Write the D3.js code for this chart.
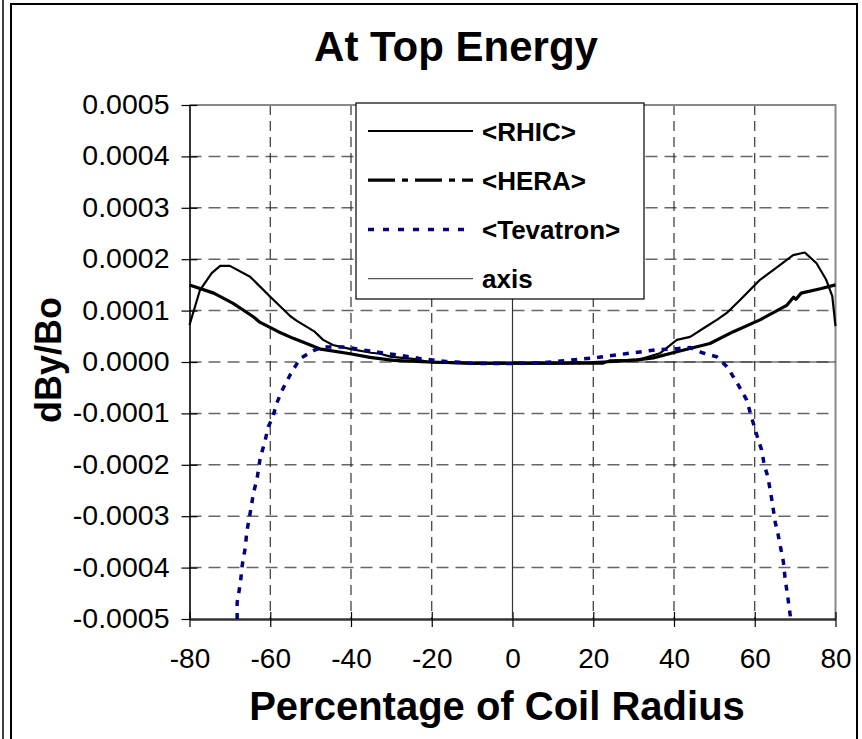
<!DOCTYPE html>
<html><head><meta charset="utf-8">
<script src="https://cdn.jsdelivr.net/npm/d3@7"></script>
<style>body{margin:0;background:#fff}svg{display:block}text{font-family:"Liberation Sans",Arial,sans-serif;fill:#000}</style>
</head><body><svg id="c" width="862" height="739"></svg>
<script>
// ---- data ----
const chartTitle = "At Top Energy";
const xTitle = "Percentage of Coil Radius";
const yTitle = "dBy/Bo";
const xTicks = [-80,-60,-40,-20,0,20,40,60,80];
const xTickLabels = ["-80","-60","-40","-20","0","20","40","60","80"];
const yTicks = [0.0005,0.0004,0.0003,0.0002,0.0001,0,-0.0001,-0.0002,-0.0003,-0.0004,-0.0005];
const yTickLabels = ["0.0005","0.0004","0.0003","0.0002","0.0001","0.0000","-0.0001","-0.0002","-0.0003","-0.0004","-0.0005"];
const seriesNames = ["<RHIC>","<HERA>","<Tevatron>","axis"];

const rhicX = [-80,-77.4,-74.5,-72.4,-70,-65,-60,-55,-53.4,-49,-46.9,-44.5,-40,-35,-32.8,-30,-24.6,-20,-10,0,10,20,22.5,24,31,36.5,40.7,44,48,50.6,53,56.3,61.3,66.3,69.5,72.4,75.3,77.7,79.2,80];
const rhicY = [0.000072,0.000140,0.000173,0.000187,0.000187,0.000166,0.000127,0.000089,0.000080,0.000059,0.000043,0.000033,0.000025,0.000018,0.000016,0.000010,0.000006,-0.000001,-0.000003,-0.000003,-0.000003,-0.000003,-0.000003,0.000003,0.000004,0.000017,0.000043,0.000049,0.000069,0.000082,0.000095,0.000120,0.000160,0.000189,0.000208,0.000213,0.000192,0.000160,0.000128,0.000070];

const heraX = [-80,-74,-69.2,-64.2,-62.5,-58,-54.3,-51,-47.5,-40.2,-35.3,-29.5,-21,-10,0,10,20,25,30.8,34.9,40.7,48.9,54.7,61.3,67.9,69.6,70.2,71.5,76.5,80];
const heraY = [0.000150,0.000134,0.000114,0.000088,0.000077,0.000059,0.000046,0.000036,0.000025,0.000016,0.000009,0.000003,0,-0.000002,-0.000002,-0.000002,-0.000001,0.000001,0.000004,0.000008,0.000020,0.000036,0.000059,0.000082,0.000110,0.000126,0.000122,0.000134,0.000143,0.000150];

const tevX = [-68.2,-68.2,-67.4,-66.9,-66.2,-65.8,-65.0,-64.2,-63.2,-62.5,-61.3,-60.5,-59.4,-58.4,-56.8,-55.0,-52.6,-49.3,-46.9,-41.5,-35,-28,-23,-16.5,-8,0,8,12,20,24,28,32,36,40.7,44,47,50.6,53.1,55.6,58,59.3,60.5,61.7,62.4,63.2,63.9,64.5,65.1,65.6,66.3,67.1,67.5,68.3,68.9];
const tevY = [-0.000500,-0.000468,-0.000430,-0.000393,-0.000362,-0.000330,-0.000295,-0.000257,-0.000224,-0.000187,-0.000154,-0.000126,-0.000108,-0.000080,-0.000051,-0.000024,0.000007,0.000022,0.000029,0.000029,0.000021,0.000013,0.000007,0.000001,-0.000003,-0.000003,-0.000001,0.000002,0.000008,0.000012,0.000016,0.000020,0.000024,0.000026,0.000028,0.000018,0.000010,-0.000009,-0.000040,-0.000074,-0.000110,-0.000142,-0.000171,-0.000202,-0.000222,-0.000252,-0.000282,-0.000313,-0.000328,-0.000357,-0.000389,-0.000420,-0.000464,-0.000500];

const axisX = [0,0,0,80];
const axisY = [0.0005,-0.0005,0,0];

// ---- drawing ----
const svg = d3.select("#c");
const FONT = '"Liberation Sans",Arial,sans-serif';
const x = d3.scaleLinear().domain([-80,80]).range([189.5,835.5]);
const y = d3.scaleLinear().domain([-0.0005,0.0005]).range([619,105]);
const zip = (a,b)=>a.map((v,i)=>[v,b[i]]);

// outer frame
svg.append("line").attr("x1",3).attr("x2",3).attr("y1",0).attr("y2",739).attr("stroke","#000").attr("stroke-width",1.5);
svg.append("rect").attr("x",11).attr("y",4).attr("width",846).attr("height",760).attr("fill","none").attr("stroke","#000").attr("stroke-width",2);

// grid
const g = svg.append("g");
g.selectAll(".hg").data(yTicks.filter(v=>Math.abs(v)<0.00045)).join("line")
  .attr("x1",x(-80)).attr("x2",x(80)).attr("y1",d=>y(d)).attr("y2",d=>y(d))
  .attr("stroke","#666").attr("stroke-width",1.5).attr("stroke-dasharray","12,7");
g.selectAll(".vg").data(xTicks.filter(v=>Math.abs(v)<70 && v!==0)).join("line")
  .attr("x1",d=>x(d)).attr("x2",d=>x(d)).attr("y1",y(0.0005)).attr("y2",y(-0.0005))
  .attr("stroke","#222").attr("stroke-width",1.1).attr("stroke-dasharray","10,6");

// plot border (top/right gray)
svg.append("path").attr("d",`M${x(-80)},${y(0.0005)}H${x(80)}V${y(-0.0005)}`)
  .attr("fill","none").attr("stroke","#888").attr("stroke-width",2);

// axes
const yAxis = d3.axisLeft(y).tickValues(yTicks).tickSizeInner(8).tickSizeOuter(0)
  .tickFormat((d,i)=>yTickLabels[i]).tickPadding(12);
const ya = svg.append("g").attr("transform",`translate(${x(-80)},0)`).call(yAxis);
ya.select(".domain").attr("stroke","#000").attr("stroke-width",1.6);
ya.selectAll(".tick line").attr("stroke","#000").attr("stroke-width",1.2).attr("x2",8).attr("x1",-8);
ya.selectAll(".tick text").attr("font-family",FONT).attr("font-size",28.5).attr("fill","#000").attr("dy","0.3em");

const xAxis = d3.axisBottom(x).tickValues(xTicks).tickSizeInner(8).tickSizeOuter(0)
  .tickFormat((d,i)=>xTickLabels[i]).tickPadding(21);
const xa = svg.append("g").attr("transform",`translate(0,${y(-0.0005)})`).call(xAxis);
xa.select(".domain").attr("stroke","#333").attr("stroke-width",2.5);
xa.selectAll(".tick line").attr("stroke","#000").attr("stroke-width",1.2).attr("y1",-7).attr("y2",8);
xa.selectAll(".tick text").attr("font-family",FONT).attr("font-size",28).attr("fill","#000");

// series
const line = d3.line().x(d=>x(d[0])).y(d=>y(d[1]));
svg.append("path").datum(zip(axisX,axisY)).attr("d",line).attr("fill","none").attr("stroke","#333").attr("stroke-width",1.2);
svg.append("path").datum(zip(rhicX,rhicY)).attr("d",line).attr("fill","none").attr("stroke","#000").attr("stroke-width",2.2).attr("stroke-linejoin","round");
svg.append("path").datum(zip(heraX,heraY)).attr("d",line).attr("fill","none").attr("stroke","#000").attr("stroke-width",3.2).attr("stroke-linejoin","round");
svg.append("path").datum(zip(tevX,tevY)).attr("d",line).attr("fill","none").attr("stroke","#000080").attr("stroke-width",3.5).attr("stroke-dasharray","6,7");

// legend
const lg = svg.append("g");
lg.append("rect").attr("x",356).attr("y",103).attr("width",288).attr("height",196).attr("fill","#fff").attr("stroke","#000").attr("stroke-width",1.2);
const lStyles = [
  {stroke:"#000",w:2.2,dash:null},
  {stroke:"#000",w:3.2,dash:"27,7,6,7"},
  {stroke:"#000080",w:3.5,dash:"6,9"},
  {stroke:"#555",w:1.2,dash:null}];
seriesNames.forEach((name,i)=>{
  const ly = 131 + i*49.2;
  const s = lStyles[i];
  lg.append("line").attr("x1",368).attr("x2",473).attr("y1",ly).attr("y2",ly)
    .attr("stroke",s.stroke).attr("stroke-width",s.w).attr("stroke-dasharray",s.dash);
  lg.append("text").attr("x",482).attr("y",ly+9.5).attr("font-size",26).attr("font-weight","bold").text(name);
});

// titles
svg.append("text").attr("x",456).attr("y",61).attr("text-anchor","middle").attr("font-size",42).attr("font-weight","bold").text(chartTitle);
svg.append("text").attr("x",497).attr("y",720).attr("text-anchor","middle").attr("font-size",40).attr("font-weight","bold").text(xTitle);
svg.append("text").attr("transform","translate(61,360) rotate(-90)").attr("text-anchor","middle").attr("font-size",36).attr("font-weight","bold").text(yTitle);
</script>
</body></html>
